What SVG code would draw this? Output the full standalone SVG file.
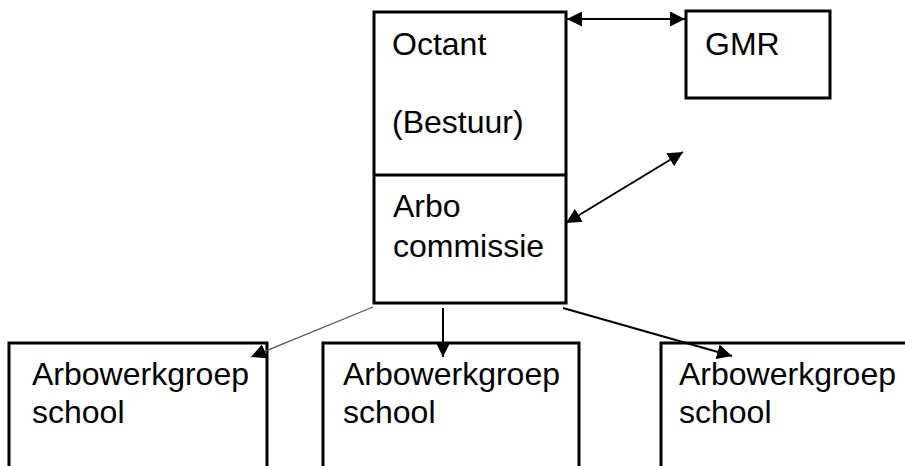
<svg xmlns="http://www.w3.org/2000/svg" width="905" height="466" viewBox="0 0 905 466">
<defs>
<style>
.box{fill:none;stroke:#000;stroke-width:3}
.t{font-family:"Liberation Sans",Arial,sans-serif;font-size:32px;fill:#000}
.c{fill:none;stroke:#000;stroke-width:2}
.thin{fill:none;stroke:#555;stroke-width:1.2}
</style>
<marker id="ah" viewBox="0 0 10 10" refX="10" refY="5" markerWidth="15" markerHeight="15" markerUnits="userSpaceOnUse" orient="auto-start-reverse">
<path d="M0,0 L10,5 L0,10 Z" fill="#000"/>
</marker>
</defs>
<rect width="905" height="466" fill="#fff"/>
<g id="octant">
<rect class="box" x="374" y="12" width="192" height="291"/>
<line class="box" x1="374" y1="175" x2="566" y2="175"/>
<text class="t" x="392" y="55">Octant</text>
<text class="t" x="392" y="133">(Bestuur)</text>
</g>
<g id="arbocommissie">
<text class="t" x="393" y="217">Arbo</text>
<text class="t" x="393" y="257">commissie</text>
</g>
<g id="gmr">
<rect class="box" x="686" y="11" width="144" height="87"/>
<text class="t" x="705" y="55">GMR</text>
</g>
<g id="school1">
<path class="box" d="M9,470 V343 H267 V470"/>
<text class="t" x="32" y="385">Arbowerkgroep</text>
<text class="t" x="32" y="423">school</text>
</g>
<g id="school2">
<path class="box" d="M323,470 V343 H579 V470"/>
<text class="t" x="343" y="385">Arbowerkgroep</text>
<text class="t" x="343" y="423">school</text>
</g>
<g id="school3">
<path class="box" d="M661,470 V343 H910"/>
<text class="t" x="679" y="385">Arbowerkgroep</text>
<text class="t" x="679" y="423">school</text>
</g>
<g id="connectors">
<line class="c" x1="567" y1="19" x2="685" y2="19" marker-start="url(#ah)" marker-end="url(#ah)"/>
<line class="c" x1="566" y1="223" x2="683" y2="152" marker-start="url(#ah)" marker-end="url(#ah)"/>
<line class="thin" x1="373" y1="307" x2="251" y2="357" marker-end="url(#ah)"/>
<line class="c" x1="443" y1="308" x2="443" y2="357" marker-end="url(#ah)"/>
<line class="c" x1="563" y1="308" x2="732" y2="356" marker-end="url(#ah)"/>
</g>
</svg>
